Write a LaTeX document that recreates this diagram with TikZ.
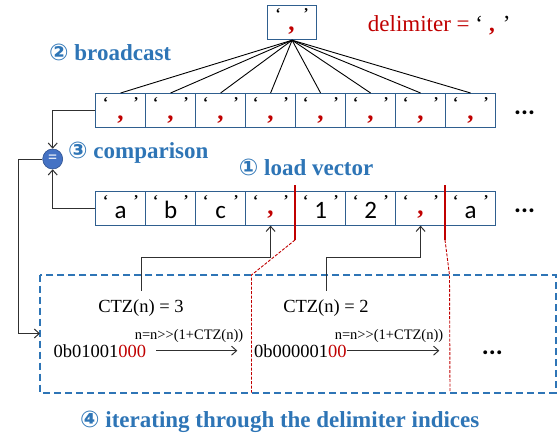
\documentclass[tikz,border=0pt]{standalone}
\usepackage{fontspec}
\setmainfont{Liberation Serif}
\newfontfamily\plainserif{Liberation Serif}
\newfontfamily\cellfont{Carlito}
\newfontfamily\symfont{DejaVu Sans}
\usetikzlibrary{arrows.meta}
\definecolor{cellblue}{HTML}{2F5F8F}
\definecolor{titleblue}{HTML}{2E75B6}
\definecolor{dred}{HTML}{C00000}
\definecolor{eqfill}{HTML}{4472C4}
\definecolor{eqdraw}{HTML}{2F528F}
\definecolor{arrgray}{HTML}{303030}
\tikzset{
  cellbox/.style={draw=cellblue, line width=1.2pt, minimum width=50pt, minimum height=33.5pt, inner sep=0pt, anchor=north west},
  qt/.style={font=\plainserif\bfseries\fontsize{15}{15}\selectfont, inner sep=0pt},
  redcomma/.style={text=dred, font=\plainserif\bfseries\fontsize{25}{25}\selectfont, inner sep=0pt, anchor=base},
  chr/.style={font=\cellfont\fontsize{25}{25}\selectfont, inner sep=0pt, anchor=base},
  titletext/.style={text=titleblue, font=\plainserif\bfseries\fontsize{23}{23}\selectfont, inner sep=0pt, anchor=base west},
  dotstext/.style={font=\cellfont\bfseries\fontsize{26}{26}\selectfont, inner sep=0pt, anchor=base west},
  ctztext/.style={font=\plainserif\fontsize{18.5}{18.5}\selectfont, inner sep=0pt, anchor=base},
  shifttext/.style={font=\plainserif\fontsize{14.5}{14.5}\selectfont, inner sep=0pt},
  bintext/.style={font=\plainserif\fontsize{18.5}{18.5}\selectfont, inner sep=0pt, anchor=base west},
  conn/.style={draw=arrgray, line width=1pt},
  tip/.style={-{Straight Barb[length=5pt,width=9pt]}},
  fanline/.style={draw=black, line width=0.9pt},
  redline/.style={draw=dred, line width=1.8pt},
  reddash/.style={draw=dred, line width=0.9pt, dash pattern=on 3pt off 1.5pt},
  bluedash/.style={draw=titleblue, line width=2pt, dash pattern=on 7pt off 4pt}
}
\begin{document}
\begin{tikzpicture}[x=1pt,y=-1pt]
\useasboundingbox (0,0) rectangle (557,436);

% top delimiter box
\node[cellbox, minimum width=49pt, minimum height=34pt] (top) at (267,5) {};
\node[qt] (topq1) at (278,14) {‘};
\node[qt] (topq2) at (306,14) {’};
\node[redcomma] (topc) at (291.5,31) {,};
\node[font=\plainserif\fontsize{23}{23}\selectfont, anchor=base west, inner sep=0pt] (delim) at (367.7,31.7)
  {\textcolor{dred}{delimiter =} ‘\hspace{6pt}\textcolor{dred}{\textbf{,}}\hspace{8pt}’};

\node[titletext] (t2) at (49,61) {{\symfont ②} broadcast};

% broadcast row
\foreach \i in {1,...,8} {
  \node[cellbox] (b\i) at ({95+50*(\i-1)},93) {};
  \node[qt] at ([xshift=10.5pt,yshift=-10pt]b\i.north west) {‘};
  \node[qt] at ([xshift=-10pt,yshift=-10pt]b\i.north east) {’};
  \node[redcomma] at ([yshift=-8.75pt]b\i.center) {,};
  \draw[fanline] (top.south) -- (b\i.north);
}
\node[dotstext] (bdots) at (514,114) {...};

% load row
\foreach \i in {1,...,8} {
  \node[cellbox] (l\i) at ({95+50*(\i-1)},191) {};
  \node[qt] at ([xshift=10.5pt,yshift=-10pt]l\i.north west) {‘};
  \node[qt] at ([xshift=-10pt,yshift=-10pt]l\i.north east) {’};
}
\foreach \i/\c in {1/a,2/b,3/c,5/1,6/2,8/a} {
  \node[chr] at ([yshift=-10pt]l\i.center) {\c};
}
\node[redcomma] at ([yshift=-6.25pt]l4.center) {,};
\node[redcomma] at ([yshift=-6.25pt]l7.center) {,};
\node[dotstext] (ldots) at (514,212) {...};

% comparison
\node[circle, fill=eqfill, draw=eqdraw, line width=0.6pt, minimum size=20pt, inner sep=0pt,
      text=white, font=\plainserif\bfseries\fontsize{16}{16}\selectfont] (eq) at (52.7,159) {=};
\node[titletext] (t3) at (68,158.5) {{\symfont ③} comparison};
\node[titletext] (t1) at (238.7,175.7) {{\symfont ①} load vector};

\draw[conn,tip] (b1.west) -| (eq.north);
\draw[conn,tip] (l1.west) -| (eq.south);

% dashed box
\coordinate (dnw) at (40,274.5);
\coordinate (dse) at (555.7,392.5);
\coordinate (dw) at (40,333.5);
\draw[bluedash] (dnw) rectangle (dse);
\coordinate (lt) at (18.5,159);
\draw[conn,tip] (eq.west) -- (lt) |- (dw);

% red markers
\coordinate (r1a) at (295,185);
\coordinate (r1b) at (295,240);
\coordinate (r1c) at (251.5,275);
\coordinate (r1d) at (251.5,392.5);
\coordinate (r2a) at (445,185);
\coordinate (r2b) at (445,240);
\coordinate (r2c) at (449.5,275);
\coordinate (r2d) at (450,392.5);
\draw[reddash] (r1b) -- (r1c) -- (r1d);
\draw[reddash] (r2b) -- (r2c) -- (r2d);
\draw[redline] (r1a) -- (r1b);
\draw[redline] (r2a) -- (r2b);

% CTZ labels and arrows
\node[ctztext] (c1) at (141,312) {CTZ(n) = 3};
\node[ctztext] (c2) at (326,312) {CTZ(n) = 2};
\draw[conn,tip] ([yshift=8pt]c1.north) -- ++(0,-33.3) -| (l4.south);
\draw[conn,tip] ([yshift=8pt]c2.north) -- ++(0,-33.3) -| (l7.south);

\node[shifttext] (s1) at (189,336) {n=n>\kern0pt>(1+CTZ(n))};
\node[shifttext] (s2) at (389,336) {n=n>\kern0pt>(1+CTZ(n))};

\node[bintext] (n1) at (53.3,357) {0b01001\textcolor{dred}{000}};
\node[bintext] (n2) at (254,357) {0b000001\textcolor{dred}{00}};
\coordinate (a1e) at (237.3,351);
\coordinate (a2e) at (439.3,351);
\draw[conn,tip] ([xshift=10pt]n1.east) -- (n1.east -| a1e);
\draw[conn,tip] (n2.east) -- (n2.east -| a2e);
\node[dotstext] (ddots) at (481.7,354) {...};

\node[titletext] (t4) at (80,427.7) {{\symfont ④} iterating through the delimiter indices};
\end{tikzpicture}
\end{document}
